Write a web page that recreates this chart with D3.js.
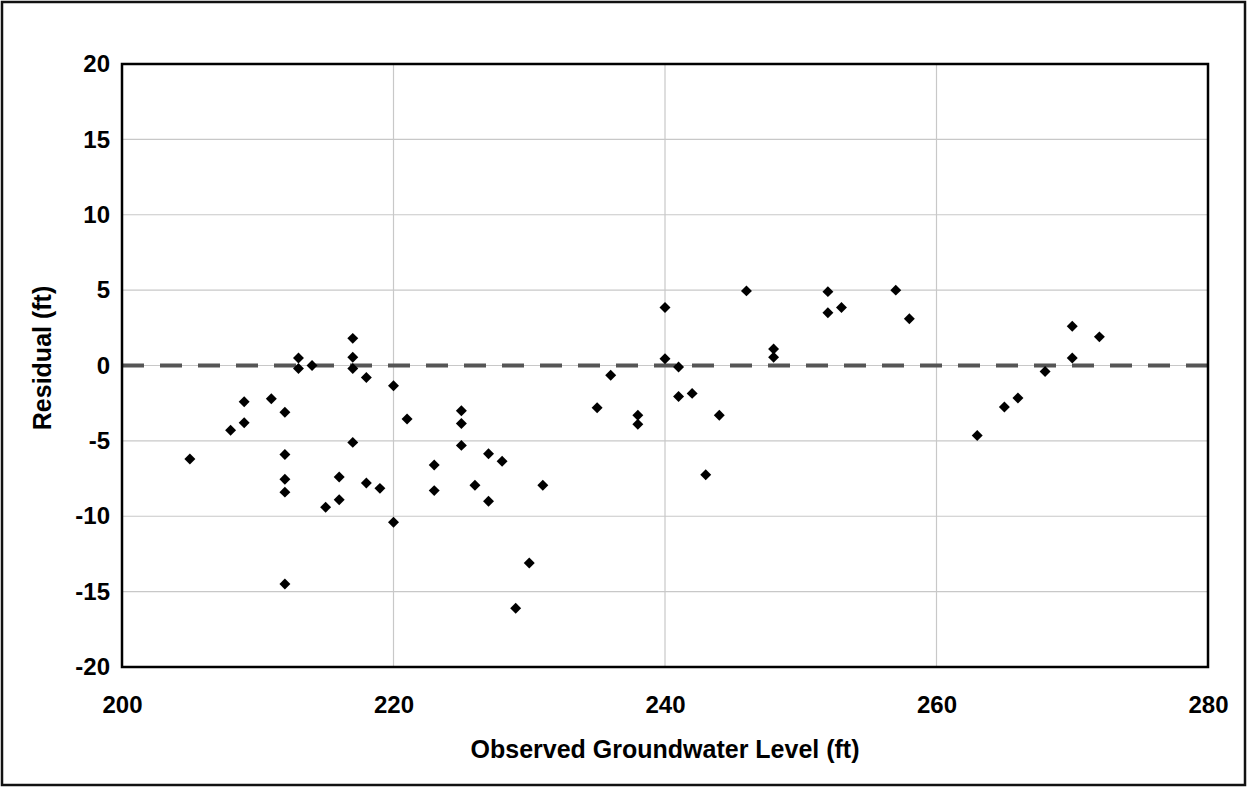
<!DOCTYPE html>
<html><head><meta charset="utf-8">
<script src="https://cdn.jsdelivr.net/npm/d3@7"></script>
<style>
html,body{margin:0;padding:0;background:#fff;}
svg text{font-family:"Liberation Sans",Arial,sans-serif;font-weight:bold;fill:#000;}
</style></head>
<body>
<svg id="chart" width="1247" height="787"></svg>
<script>
const observed = [205,208,209,209,211,212,212,212,212,212,213,213,214,217,217,217,217,218,215,216,216,218,219,220,220,221,223,223,
 225,225,225,227,228,226,227,231,230,229,235,236,238,238,240,240,241,241,242,243,244,
 246,248,248,252,252,253,257,258,263,265,266,268,270,270,272];
const residual = [-6.2,-4.3,-2.4,-3.8,-2.2,-3.1,-5.9,-7.55,-8.4,-14.5,0.5,-0.2,0.0,1.8,0.55,-0.2,-5.1,-0.8,-9.4,-8.9,-7.4,-7.8,-8.15,-10.4,-1.35,-3.55,-6.6,-8.3,
 -3.0,-3.85,-5.3,-5.85,-6.35,-7.95,-9.0,-7.95,-13.1,-16.1,-2.8,-0.65,-3.3,-3.9,3.85,0.45,-0.1,-2.05,-1.85,-7.25,-3.3,
 4.95,1.1,0.55,4.9,3.5,3.85,5.0,3.1,-4.65,-2.75,-2.15,-0.4,2.6,0.5,1.9];
const xTicks = [200,220,240,260,280];
const yTicks = [-20,-15,-10,-5,0,5,10,15,20];
const xTitle = "Observed Groundwater Level (ft)";
const yTitle = "Residual (ft)";

const svg = d3.select("#chart");
const L=122, R=1208, T=64, B=667;
const x = d3.scaleLinear().domain([200,280]).range([L,R]);
const y = d3.scaleLinear().domain([-20,20]).range([B,T]);

// outer border
svg.append("rect").attr("x",2).attr("y",2).attr("width",1243).attr("height",783)
  .attr("fill","#fff").attr("stroke","#111").attr("stroke-width",2.5);

// grid
svg.append("g").selectAll("line").data(yTicks.filter(d=>d>-20&&d<20)).join("line")
  .attr("x1",L).attr("x2",R).attr("y1",d=>y(d)).attr("y2",d=>y(d))
  .attr("stroke","#c8c8c8").attr("stroke-width",1.2);
svg.append("g").selectAll("line").data(xTicks.filter(d=>d>200&&d<280)).join("line")
  .attr("y1",T).attr("y2",B).attr("x1",d=>x(d)).attr("x2",d=>x(d))
  .attr("stroke","#c8c8c8").attr("stroke-width",1.2);

// zero dashed line
svg.append("line").attr("x1",L).attr("x2",R).attr("y1",y(0)).attr("y2",y(0))
  .attr("stroke","#555").attr("stroke-width",4).attr("stroke-dasharray","22,16");

// axes with d3
const fmt = d => String(d);
const xAxis = d3.axisBottom(x).tickValues(xTicks).tickFormat(fmt).tickSize(0).tickPadding(29);
const gx = svg.append("g").attr("transform",`translate(0,${B})`).call(xAxis);
gx.select(".domain").remove();
gx.selectAll("text").style("font-size","24px");
const yAxis = d3.axisLeft(y).tickValues(yTicks).tickFormat(fmt).tickSize(0).tickPadding(12);
const gy = svg.append("g").attr("transform",`translate(${L},0)`).call(yAxis);
gy.select(".domain").remove();
gy.selectAll("text").style("font-size","24px");

// points
const sym = d3.symbol().type(d3.symbolSquare).size(60);
svg.append("g").selectAll("path").data(observed.map((o,i)=>[o,residual[i]])).join("path")
  .attr("d",sym).attr("fill","#000")
  .attr("transform",d=>`translate(${x(d[0])},${y(d[1])}) rotate(45)`);

// plot frame
svg.append("rect").attr("x",L).attr("y",T).attr("width",R-L).attr("height",B-T)
  .attr("fill","none").attr("stroke","#000").attr("stroke-width",2.5);

// titles
svg.append("text").attr("x",(L+R)/2).attr("y",758).attr("text-anchor","middle")
  .style("font-size","25px").text(xTitle);
svg.append("text").attr("transform",`translate(51,358) rotate(-90)`).attr("text-anchor","middle")
  .style("font-size","25px").text(yTitle);
</script>
</body></html>
